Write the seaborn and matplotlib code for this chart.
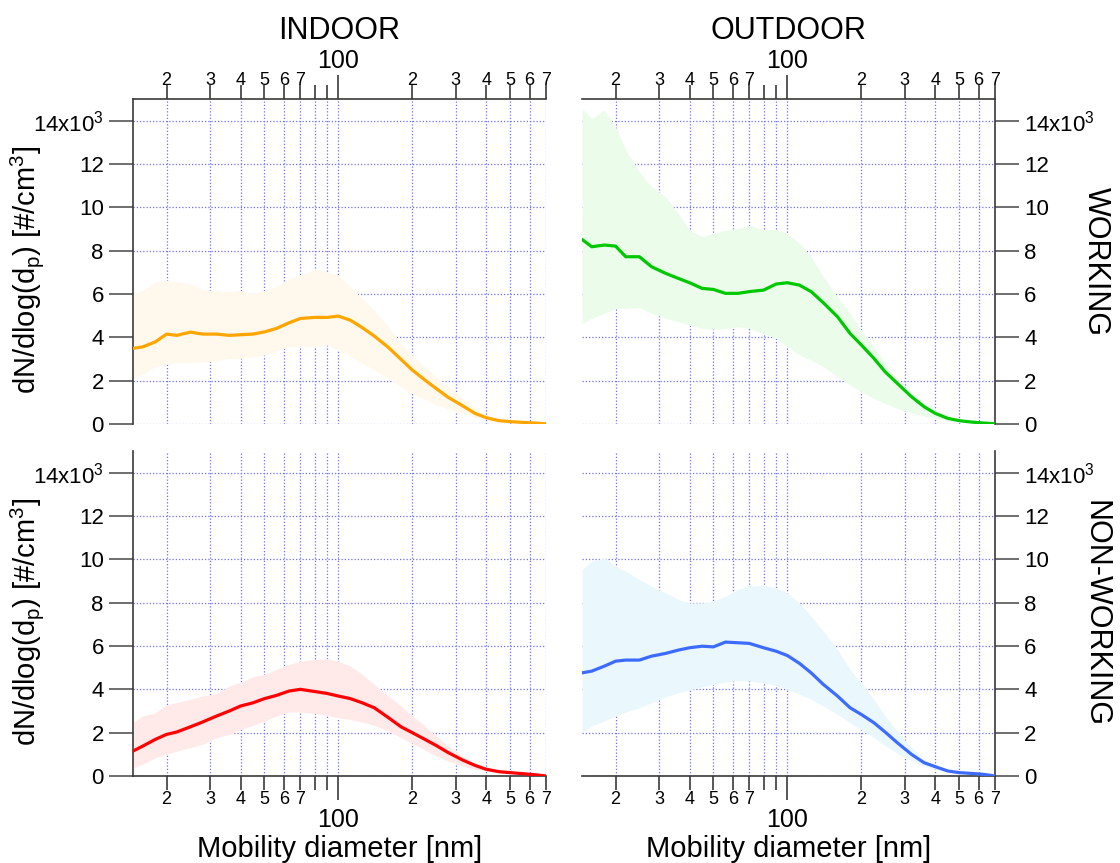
"""
Size distributions (mean +/- band) indoor/outdoor, working/non-working days.
Writes out.png
"""

import pandas as pd
import matplotlib
matplotlib.use('Agg')
import matplotlib.pyplot as plt
import seaborn as sns
from matplotlib.ticker import FixedLocator, FixedFormatter

sns.set_theme(style="white")
plt.rcParams['font.family'] = ['Liberation Sans', 'DejaVu Sans']
plt.rcParams['mathtext.default'] = 'regular'
plt.rcParams['text.color'] = 'black'
plt.rcParams['xtick.labelcolor'] = 'black'
plt.rcParams['ytick.labelcolor'] = 'black'

# mobility diameter grid [nm]
diam = [14.6, 16, 18, 20, 22, 25, 28, 32, 36, 40, 45, 50, 56, 63, 70, 80, 90, 100,
        112, 125, 140, 160, 180, 200, 225, 250, 280, 320, 360, 400, 450, 500, 560, 630, 700]

# indoor / working
in_work_mean = [3490, 3560, 3790, 4150, 4090, 4240, 4150, 4150, 4090, 4120, 4150, 4250, 4410, 4670, 4870, 4920, 4920, 4980,
                4790, 4450, 4060, 3530, 2980, 2490, 2030, 1640, 1230, 845, 490, 290, 155, 110, 75, 45, 10]
in_work_hi = [6020, 6170, 6560, 6640, 6560, 6480, 6200, 6170, 6100, 6170, 6020, 6170, 6330, 6710, 6870, 7130, 7020, 6870,
              6330, 5790, 5250, 4490, 3720, 3180, 2640, 2180, 1720, 1180, 720, 415, 230, 155, 105, 60, 20]
in_work_lo = [2100, 2300, 2640, 2760, 2830, 2830, 2860, 2920, 3030, 3030, 3100, 3180, 3380, 3560, 3590, 3560, 3640, 3410,
              3130, 2800, 2490, 2100, 1720, 1410, 1140, 875, 690, 490, 305, 215, 120, 90, 60, 35, 0]

# outdoor / working
out_work_mean = [8520, 8180, 8260, 8210, 7720, 7720, 7260, 6950, 6720, 6520, 6260, 6210, 6030, 6030, 6110, 6180, 6460, 6520,
                 6410, 6110, 5600, 4950, 4180, 3650, 3030, 2410, 1880, 1260, 800, 490, 260, 155, 90, 45, 10]
out_work_hi = [14560, 14100, 14490, 13720, 12640, 11640, 10950, 10490, 9720, 8950, 8640, 8800, 8950, 9030, 9180, 8950, 8980, 8800,
               8340, 7720, 6800, 5880, 5110, 4340, 3570, 2800, 2030, 1410, 950, 650, 340, 215, 140, 75, 20]
out_work_lo = [4640, 4880, 5110, 5340, 5340, 5380, 5110, 4880, 4720, 4570, 4410, 4370, 4410, 4490, 4410, 4180, 3950, 3570,
               3180, 2950, 2650, 2180, 1800, 1490, 1180, 950, 720, 520, 370, 260, 155, 110, 70, 40, 0]

# indoor / non-working
in_nonwork_mean = [1150, 1380, 1690, 1920, 2030, 2270, 2490, 2770, 3000, 3230, 3380, 3570, 3720, 3920, 4000, 3900, 3810, 3690,
                   3570, 3380, 3150, 2690, 2270, 2000, 1690, 1410, 1080, 740, 490, 310, 200, 155, 110, 60, 0]
in_nonwork_hi = [2460, 2770, 2920, 3300, 3380, 3540, 3690, 3810, 4150, 4330, 4580, 4690, 4920, 5150, 5300, 5380, 5410, 5300,
                 5070, 4690, 4230, 3690, 3230, 2770, 2310, 1840, 1380, 920, 580, 385, 260, 200, 140, 90, 20]
in_nonwork_lo = [380, 540, 845, 1000, 1150, 1310, 1460, 1770, 1920, 2150, 2340, 2540, 2770, 2950, 2950, 2890, 2800, 2690,
                 2610, 2490, 2340, 2070, 1770, 1510, 1200, 920, 690, 460, 310, 230, 155, 120, 80, 40, 0]

# outdoor / non-working
out_nonwork_mean = [4760, 4840, 5070, 5300, 5350, 5350, 5530, 5660, 5810, 5920, 5990, 5960, 6180, 6150, 6120, 5920, 5760, 5560,
                    5200, 4760, 4230, 3690, 3150, 2840, 2460, 2030, 1540, 1000, 615, 430, 230, 155, 120, 75, 0]
out_nonwork_hi = [9530, 9910, 10070, 9680, 9450, 9070, 8760, 8450, 8150, 7990, 7990, 8070, 8300, 8610, 8760, 8810, 8680, 8450,
                  7990, 7380, 6690, 5840, 4920, 4300, 3540, 2770, 2070, 1310, 770, 460, 260, 185, 120, 75, 20]
out_nonwork_lo = [2000, 2310, 2540, 2770, 2950, 3150, 3380, 3660, 3840, 3970, 4120, 4230, 4330, 4400, 4380, 4300, 4180, 4000,
                  3770, 3540, 3230, 2840, 2460, 2120, 1770, 1410, 1050, 690, 460, 310, 200, 155, 100, 60, 0]

col_titles = ['INDOOR', 'OUTDOOR']
row_titles = ['WORKING', 'NON-WORKING']
minor_ticks = [20, 30, 40, 50, 60, 70, 80, 90, 200, 300, 400, 500, 600, 700]
minor_labels = ['2', '3', '4', '5', '6', '7', '', '', '2', '3', '4', '5', '6', '7']
y_ticks = [0, 2000, 4000, 6000, 8000, 10000, 12000, 14000]
y_labels = ['0', '2', '4', '6', '8', '10', '12', '14x10$^{3}$']

panels = [
    # row, col, mean, lo, hi, line colour, band colour
    (0, 0, in_work_mean, in_work_lo, in_work_hi, '#FFA500', '#FFF8EC'),
    (0, 1, out_work_mean, out_work_lo, out_work_hi, '#00C800', '#EBFCEB'),
    (1, 0, in_nonwork_mean, in_nonwork_lo, in_nonwork_hi, '#FF0000', '#FFE9E9'),
    (1, 1, out_nonwork_mean, out_nonwork_lo, out_nonwork_hi, '#3D6BFF', '#EAF8FD'),
]

W, H = 1120, 863
fig = plt.figure(figsize=(W / 100, H / 100), dpi=100)

left_px = [133, 582]
width_px = 413
top_px = [99, 451]
height_px = 325

grid_kw = dict(color='#6E6EFF', linestyle=(0, (1, 1.6)), linewidth=0.9)

for row, col, mean, lo, hi, lc, fc in panels:
    ax = fig.add_axes([left_px[col] / W, 1 - (top_px[row] + height_px) / H,
                       width_px / W, height_px / H])
    df = pd.DataFrame({'diameter': diam, 'mean': mean, 'lo': lo, 'hi': hi})

    ax.set_axisbelow(True)
    ax.fill_between(df['diameter'], df['lo'], df['hi'], color=fc, linewidth=0, zorder=1)
    sns.lineplot(data=df, x='diameter', y='mean', color=lc, linewidth=2.3, ax=ax, zorder=3)

    ax.set_xscale('log')
    ax.set_xlim(14.6, 700)
    ax.set_ylim(0, 15000)
    ax.set_xlabel('')
    ax.set_ylabel('')

    ax.xaxis.set_major_locator(FixedLocator([100]))
    ax.xaxis.set_major_formatter(FixedFormatter(['100']))
    ax.xaxis.set_minor_locator(FixedLocator(minor_ticks))
    ax.xaxis.set_minor_formatter(FixedFormatter(minor_labels))
    ax.yaxis.set_major_locator(FixedLocator(y_ticks))
    ax.yaxis.set_major_formatter(FixedFormatter(y_labels))

    ax.grid(True, which='both', axis='x', **grid_kw)
    ax.grid(True, which='major', axis='y', **grid_kw)

    for s in ax.spines.values():
        s.set_visible(False)
        s.set_color('#3a3a3a')
        s.set_linewidth(1.2)

    # x axis on top for the upper row, bottom for the lower row
    if row == 0:
        ax.spines['top'].set_visible(True)
        ax.xaxis.set_ticks_position('top')
        major_pad, minor_pad = 2, -3
    else:
        ax.spines['bottom'].set_visible(True)
        ax.xaxis.set_ticks_position('bottom')
        major_pad, minor_pad = 6, 1
    ax.tick_params(axis='x', which='major', direction='out', length=17, width=1.2,
                   color='#3a3a3a', labelsize=18, pad=major_pad)
    ax.tick_params(axis='x', which='minor', direction='out', length=10, width=1.2,
                   color='#3a3a3a', labelsize=13, pad=minor_pad)

    if col == 0:
        ax.spines['left'].set_visible(True)
        ax.yaxis.set_ticks_position('left')
    else:
        ax.spines['right'].set_visible(True)
        ax.yaxis.set_ticks_position('right')
    ax.tick_params(axis='y', which='major', direction='out', length=17, width=1.2,
                   color='#555555', labelsize=16, pad=4)

    if col == 0:
        fig.text(27 / W, 1 - (top_px[row] + height_px / 2 + 8) / H,
                 'dN/dlog(d$_{p}$) [#/cm$^{3}$]', rotation=90,
                 ha='center', va='center', fontsize=21)
    else:
        fig.text(1096 / W, 1 - (top_px[row] + height_px / 2) / H, row_titles[row],
                 rotation=270, ha='center', va='center', fontsize=22)
    if row == 0:
        fig.text((left_px[col] + width_px / 2) / W, 1 - 31 / H, col_titles[col],
                 ha='center', va='center', fontsize=22)
    else:
        fig.text((left_px[col] + width_px / 2) / W, 1 - 849 / H, 'Mobility diameter [nm]',
                 ha='center', va='center', fontsize=21)

fig.savefig('out.png', dpi=100)
